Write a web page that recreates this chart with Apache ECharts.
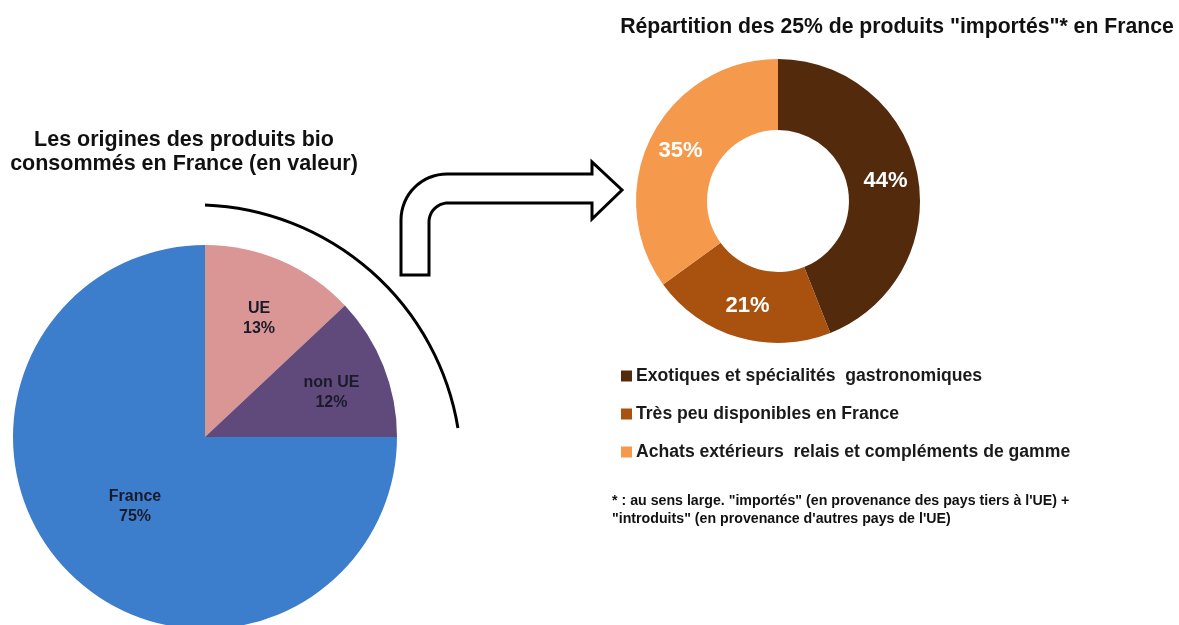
<!DOCTYPE html>
<html>
<head>
<meta charset="utf-8">
<title>Origines des produits bio</title>
<script src="https://cdn.jsdelivr.net/npm/echarts@6/dist/echarts.min.js"></script>
<style>
  html, body { margin: 0; padding: 0; background: #fff; }
  #main { width: 1179px; height: 625px; }
</style>
</head>
<body>
<div id="main"></div>
<script>
// origines des produits bio (en valeur)
var origines = ['UE', 'non UE', 'France'];
var originesValeurs = [13, 12, 75];
var originesCouleurs = ['#d99694', '#5f4a7b', '#3d7ecc'];

// repartition des 25% importes
var categories = [
  'Exotiques et spécialités  gastronomiques',
  'Très peu disponibles en France',
  'Achats extérieurs  relais et compléments de gamme'
];
var importesValeurs = [44, 21, 35];
var importesCouleurs = ['#542a0d', '#a9510f', '#f59a4c'];

var police = '"Liberation Sans", Arial, sans-serif';

var chart = echarts.init(document.getElementById('main'), null, { renderer: 'canvas' });

function donneesOrigines(labelFor) {
  return origines.map(function (nom, i) {
    return {
      name: nom,
      value: originesValeurs[i],
      itemStyle: { color: originesCouleurs[i] },
      label: { show: labelFor(nom) }
    };
  });
}

// fleche coudee (contour), arcs approximes par des segments
function arc(pts, cx, cy, r, a0, a1) {
  var n = 16;
  for (var k = 0; k <= n; k++) {
    var a = a0 + (a1 - a0) * k / n;
    pts.push([cx + r * Math.cos(a), cy + r * Math.sin(a)]);
  }
}
var fleche = [[401, 275]];
arc(fleche, 447, 220, 46, Math.PI, Math.PI * 1.5);
fleche.push([592, 174], [592, 162], [622, 190], [592, 219], [592, 203]);
arc(fleche, 448, 222, 19, Math.PI * 1.5, Math.PI);
fleche.push([429, 275]);

var option = {
  backgroundColor: '#ffffff',
  animation: false,
  title: [{
    text: 'Répartition des 25% de produits "importés"* en France',
    left: 897, top: 17, textAlign: 'center', padding: 0,
    textStyle: { fontFamily: police, fontSize: 21.2, fontWeight: 'bold', color: '#111' }
  }, {
    text: 'Les origines des produits bio\nconsommés en France (en valeur)',
    left: 184, top: 128, textAlign: 'center', padding: 0,
    textStyle: { fontFamily: police, fontSize: 21.5, fontWeight: 'bold', color: '#111', lineHeight: 24 }
  }, {
    text: '* : au sens large. "importés" (en provenance des pays tiers à l\'UE) +\n"introduits" (en provenance d\'autres pays de l\'UE)',
    left: 612, top: 492, padding: 0,
    textStyle: { fontFamily: police, fontSize: 14.2, fontWeight: 'bold', color: '#111', lineHeight: 18 }
  }],
  legend: {
    orient: 'vertical',
    left: 621, top: 367, padding: 0,
    itemWidth: 11, itemHeight: 11, itemGap: 20,
    icon: 'rect',
    selectedMode: false,
    data: categories,
    textStyle: { fontFamily: police, fontSize: 17.6, fontWeight: 'bold', color: '#1a1a1a', lineHeight: 18, padding: [0, 0, 0, -1] }
  },
  graphic: [{
    type: 'arc',
    shape: { cx: 194.8, cy: 471.5, r: 266.7, startAngle: -1.5325, endAngle: -0.1638, clockwise: true },
    style: { fill: 'none', stroke: '#000', lineWidth: 3 }
  }, {
    type: 'polygon',
    shape: { points: fleche },
    style: { fill: '#fff', stroke: '#000', lineWidth: 3, lineJoin: 'miter' }
  }],
  series: [{
    // camembert principal
    type: 'pie',
    center: [205, 437],
    radius: [0, 192],
    startAngle: 90,
    silent: true,
    emphasis: { disabled: true },
    itemStyle: { borderWidth: 0 },
    label: {
      position: 'inside',
      formatter: '{b}\n{c}%',
      fontFamily: police, fontSize: 16, fontWeight: 'bold', color: '#1a1a2a', lineHeight: 20
    },
    labelLine: { show: false },
    data: donneesOrigines(function (n) { return n === 'France'; })
  }, {
    // couche transparente pour placer les etiquettes UE / non UE
    type: 'pie',
    center: [205, 437],
    radius: [100, 166],
    startAngle: 90,
    silent: true,
    emphasis: { disabled: true },
    label: {
      position: 'inside',
      formatter: '{s|}\n{b}\n{c}%',
      fontFamily: police, fontSize: 16, fontWeight: 'bold', color: '#1a1a2a', lineHeight: 20,
      rich: { s: { lineHeight: 12, fontSize: 1 } }
    },
    labelLine: { show: false },
    data: donneesOrigines(function (n) { return n !== 'France'; }).map(function (d) {
      d.itemStyle = { color: 'rgba(0,0,0,0)', borderWidth: 0 };
      return d;
    })
  }, {
    // anneau des importes
    type: 'pie',
    center: [778, 201],
    radius: [71, 142],
    startAngle: 90,
    silent: true,
    emphasis: { disabled: true },
    itemStyle: { borderWidth: 0 },
    label: {
      position: 'inside',
      formatter: '{c}%',
      fontFamily: police, fontSize: 22, fontWeight: 'bold', color: '#ffffff'
    },
    labelLine: { show: false },
    data: categories.map(function (nom, i) {
      return { name: nom, value: importesValeurs[i], itemStyle: { color: importesCouleurs[i] } };
    })
  }]
};

chart.setOption(option);
</script>
</body>
</html>
